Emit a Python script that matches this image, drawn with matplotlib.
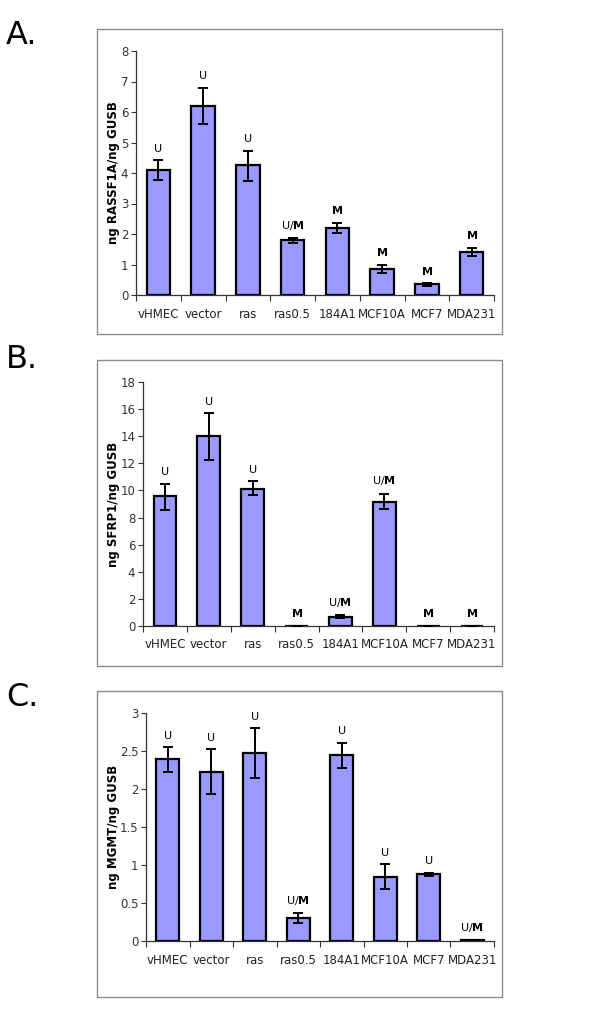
import matplotlib
matplotlib.use("Agg")
import matplotlib.pyplot as plt
from matplotlib.patches import Rectangle

categories = ["vHMEC", "vector", "ras", "ras0.5", "184A1", "MCF10A", "MCF7", "MDA231"]

rassf1a = [4.10, 6.19, 4.25, 1.79, 2.20, 0.86, 0.35, 1.42]
rassf1a_lo = [3.77, 5.60, 3.75, 1.71, 2.03, 0.72, 0.31, 1.28]
rassf1a_hi = [4.42, 6.80, 4.73, 1.87, 2.37, 1.00, 0.39, 1.55]
rassf1a_tags = ["U", "U", "U", "U/M", "M", "M", "M", "M"]

sfrp1 = [9.58, 14.00, 10.14, 0.03, 0.69, 9.18, 0.03, 0.03]
sfrp1_lo = [8.55, 12.28, 9.63, 0.03, 0.56, 8.60, 0.03, 0.03]
sfrp1_hi = [10.51, 15.72, 10.66, 0.03, 0.80, 9.77, 0.03, 0.03]
sfrp1_tags = ["U", "U", "U", "M", "U/M", "U/M", "M", "M"]

mgmt = [2.39, 2.22, 2.47, 0.30, 2.45, 0.84, 0.88, 0.01]
mgmt_lo = [2.23, 1.93, 2.14, 0.24, 2.27, 0.68, 0.85, 0.01]
mgmt_hi = [2.55, 2.52, 2.80, 0.37, 2.61, 1.01, 0.90, 0.01]
mgmt_tags = ["U", "U", "U", "U/M", "U", "U", "U", "U/M"]

W, H = 600, 1025
fig = plt.figure(figsize=(6, 10.25), dpi=100)

def px_rect(l, t, r, b):
    return [l / W, 1 - b / H, (r - l) / W, (b - t) / H]

panels = [
    dict(letter="A.", letter_y=36, box=(97, 29, 502, 334), ax=(136, 51, 494, 295),
         vals=rassf1a, lo=rassf1a_lo, hi=rassf1a_hi, tags=rassf1a_tags,
         ymax=8, step=1, ylabel="ng RASSF1A/ng GUSB", fmt="{:g}"),
    dict(letter="B.", letter_y=360, box=(97, 360, 502, 666), ax=(143, 382, 494, 626),
         vals=sfrp1, lo=sfrp1_lo, hi=sfrp1_hi, tags=sfrp1_tags,
         ymax=18, step=2, ylabel="ng SFRP1/ng GUSB", fmt="{:g}"),
    dict(letter="C.", letter_y=698, box=(97, 691, 502, 997), ax=(146, 713, 494, 941),
         vals=mgmt, lo=mgmt_lo, hi=mgmt_hi, tags=mgmt_tags,
         ymax=3, step=0.5, ylabel="ng MGMT/ng GUSB", fmt="{:g}"),
]

bar_color = "#9999FF"
for p in panels:
    l, t, r, b = p["box"]
    fig.patches.append(Rectangle((l / W, 1 - b / H), (r - l) / W, (b - t) / H,
                                 transform=fig.transFigure, fill=False,
                                 edgecolor="#8c8c8c", linewidth=1.0))
    fig.text(6 / W, 1 - p["letter_y"] / H, p["letter"], fontsize=23,
             ha="left", va="center", family="DejaVu Sans")
    ax = fig.add_axes(px_rect(*p["ax"]))
    x = list(range(len(categories)))
    vals = p["vals"]
    yerr = [[v - lo for v, lo in zip(vals, p["lo"])],
            [hi - v for v, hi in zip(vals, p["hi"])]]
    ax.bar(x, vals, width=0.52, color=bar_color, edgecolor="black", linewidth=1.6, zorder=2)
    ax.errorbar(x, vals, yerr=yerr, fmt="none", ecolor="black", elinewidth=1.4,
                capsize=3.3, capthick=1.4, zorder=3)
    for xi, hi, tag in zip(x, p["hi"], p["tags"]):
        if tag == "U":
            s = "U"
        elif tag == "M":
            s = r"$\mathbf{M}$"
        else:
            s = r"U/$\mathbf{M}$"
        ax.annotate(s, (xi, hi), xytext=(0, 4.5), textcoords="offset points",
                    ha="center", va="bottom", fontsize=8)
    ax.set_xlim(-0.5, len(categories) - 0.5)
    ax.set_ylim(0, p["ymax"])
    n = int(round(p["ymax"] / p["step"]))
    yt = [i * p["step"] for i in range(n + 1)]
    ax.set_yticks(yt)
    ax.set_yticklabels([p["fmt"].format(v) for v in yt], fontsize=8.5, color="#333333")
    ax.set_xticks([i - 0.5 for i in range(len(categories) + 1)])
    ax.set_xticklabels([])
    ax.set_xticks(x, minor=True)
    ax.set_xticklabels(categories, minor=True, fontsize=8.5, color="#222222")
    ax.tick_params(axis="x", which="minor", length=0, pad=9)
    ax.tick_params(axis="x", which="major", length=4, width=0.8, direction="out", color="#333333")
    ax.tick_params(axis="y", length=3.5, width=0.8, direction="out", pad=2, color="#333333")
    for side in ("top", "right"):
        ax.spines[side].set_visible(False)
    for side in ("left", "bottom"):
        ax.spines[side].set_color("#333333")
        ax.spines[side].set_linewidth(0.9)
    ax.set_ylabel(p["ylabel"], fontsize=8.5, fontweight="bold")
    cy = 1 - (p["ax"][1] + p["ax"][3]) / 2 / H
    ax.yaxis.set_label_coords(120 / W, cy, transform=fig.transFigure)

fig.savefig("out.png", dpi=100, facecolor="white")
